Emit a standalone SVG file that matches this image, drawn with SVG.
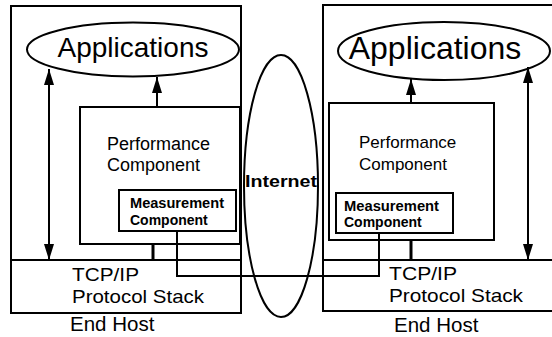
<svg xmlns="http://www.w3.org/2000/svg" width="552" height="337" viewBox="0 0 552 337">
<style>
.b{fill:none;stroke:#000;stroke-width:2}
.c{fill:none;stroke:#000;stroke-width:2}
text{font-family:"Liberation Sans",Arial,sans-serif;fill:#000}
.bd{font-weight:bold}
</style>
<defs>
<marker id="ah2" viewBox="0 0 16 10" refX="16" refY="5" markerWidth="16" markerHeight="10" markerUnits="userSpaceOnUse" orient="auto">
<path d="M0,0 L16,5 L0,10 Z" fill="#000"/>
</marker>
</defs>
<rect width="552" height="337" fill="#fff"/>
<g id="host-left">
<rect class="b" x="11" y="6" width="230" height="307"/>
<line class="b" x1="10" y1="260" x2="241" y2="260"/>
<text x="72" y="281" font-size="19" textLength="67" lengthAdjust="spacingAndGlyphs">TCP/IP</text>
<text x="72" y="303" font-size="19" textLength="132" lengthAdjust="spacingAndGlyphs">Protocol Stack</text>
<text x="70" y="331" font-size="20.5">End Host</text>
</g>
<g id="apps-left">
<ellipse class="b" cx="133" cy="49.5" rx="106" ry="27"/>
<text x="133" y="57" font-size="28" text-anchor="middle">Applications</text>
</g>
<g id="perf-left">
<rect class="b" x="80" y="107" width="160" height="137"/>
<text x="107" y="150" font-size="18">Performance</text>
<text x="107" y="171" font-size="18">Component</text>
</g>
<g id="meas-left">
<rect class="b" x="119" y="190" width="117" height="41"/>
<text x="130" y="208" font-size="14" class="bd" textLength="94" lengthAdjust="spacingAndGlyphs">Measurement</text>
<text x="130" y="225" font-size="14" class="bd">Component</text>
</g>
<g id="host-right">
<path class="b" d="M560,5 H323 V311 H560"/>
<line class="b" x1="323" y1="260" x2="552" y2="260"/>
<text x="389" y="280" font-size="19" textLength="68" lengthAdjust="spacingAndGlyphs">TCP/IP</text>
<text x="389" y="302" font-size="19" textLength="134" lengthAdjust="spacingAndGlyphs">Protocol Stack</text>
<text x="394" y="332" font-size="20.5">End Host</text>
</g>
<g id="apps-right">
<ellipse class="b" cx="444" cy="51" rx="106" ry="29"/>
<text x="435" y="59" font-size="32" text-anchor="middle">Applications</text>
</g>
<g id="perf-right">
<rect class="b" x="329" y="103" width="165" height="137"/>
<text x="359" y="148" font-size="17">Performance</text>
<text x="359" y="170" font-size="17">Component</text>
</g>
<g id="meas-right">
<rect class="b" x="336" y="193" width="117" height="40"/>
<text x="344" y="211" font-size="14" class="bd" textLength="95" lengthAdjust="spacingAndGlyphs">Measurement</text>
<text x="344" y="227" font-size="14" class="bd">Component</text>
</g>
<g id="internet">
<ellipse class="b" cx="281" cy="186" rx="37" ry="131"/>
<text x="281" y="187" font-size="17" class="bd" text-anchor="middle" textLength="72" lengthAdjust="spacingAndGlyphs">Internet</text>
</g>
<g id="connectors">
<line class="c" x1="49" y1="144" x2="49" y2="69" marker-end="url(#ah2)"/>
<line class="c" x1="49" y1="144" x2="49" y2="260" marker-end="url(#ah2)"/>
<line class="c" x1="157" y1="107" x2="157" y2="77" marker-end="url(#ah2)"/>
<line x1="153" y1="244" x2="153" y2="260" stroke="#000" stroke-width="3"/>
<line class="c" x1="528" y1="160" x2="528" y2="67" marker-end="url(#ah2)"/>
<line class="c" x1="528" y1="160" x2="528" y2="260" marker-end="url(#ah2)"/>
<line class="c" x1="411" y1="103" x2="411" y2="79" marker-end="url(#ah2)"/>
<line x1="411" y1="240" x2="411" y2="260" stroke="#000" stroke-width="3"/>
<path class="c" d="M177,231 V276 H379 V233"/>
</g>
</svg>
